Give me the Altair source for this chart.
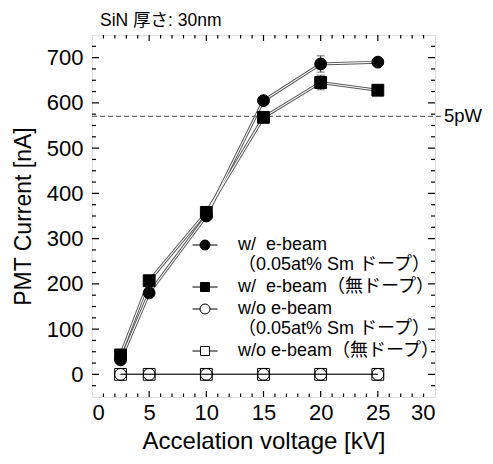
import altair as alt
import pandas as pd

# ---- data ----
x_vals = [2.5, 5, 10, 15, 20, 25]
series_names = [
    "w/\u00a0 e-beam|（0.05at% Sm ドープ）",
    "w/\u00a0 e-beam（無ドープ）",
    "w/o e-beam|（0.05at% Sm ドープ）",
    "w/o e-beam（無ドープ）",
]
w_sm = [32, 180, 350, 605, 686, 690]
w_nodope = [43, 207, 358, 568, 645, 628]
wo_sm = [0, 0, 0, 0, 0, 0]
wo_nodope = [0, 0, 0, 0, 0, 0]
w_sm_err = [0, 0, 0, 0, 18, 0]
w_nodope_err = [0, 0, 0, 0, 16, 0]
wo_sm_err = [0, 0, 0, 0, 0, 0]
wo_nodope_err = [0, 0, 0, 0, 0, 0]

ref_value = [570]
ref_label = ["5pW"]

x_major = [0, 5, 10, 15, 20, 25, 30]
x_minor = [v for v in range(1, 30) if v % 5 != 0]
y_major = [0, 100, 200, 300, 400, 500, 600, 700]
y_minor = [v for v in range(-25, 750, 25) if v % 100 != 0]

rows = []
for name, ys, es in zip(series_names,
                        [w_sm, w_nodope, wo_sm, wo_nodope],
                        [w_sm_err, w_nodope_err, wo_sm_err, wo_nodope_err]):
    for xv, yv, ev in zip(x_vals, ys, es):
        rows.append({"series": name, "x": xv, "y": yv,
                     "lo": yv - ev, "hi": yv + ev, "err": ev})
df = pd.DataFrame(rows)

FONT = "Liberation Sans, Noto Sans CJK JP"
W, H = 343, 362
xs = alt.Scale(domain=[0, 30], nice=False)
ys_ = alt.Scale(domain=[-50, 750], nice=False)

xenc = alt.X("x:Q", scale=xs, axis=alt.Axis(
    values=x_major, tickSize=0, domain=False, grid=False, labelFontSize=22,
    labelPadding=5, labelFont=FONT, title="Accelation voltage [kV]",
    titleFont=FONT, titleFontSize=24, titleFontWeight="normal", titlePadding=6,
    titleColor="black", labelColor="black"))
yenc = alt.Y("y:Q", scale=ys_, axis=alt.Axis(
    values=y_major, tickSize=0, domain=False, grid=False, labelFontSize=22,
    labelPadding=9, labelFont=FONT, title="PMT Current [nA]",
    titleFont=FONT, titleFontSize=23, titleFontWeight="normal", titlePadding=11,
    titleColor="black", labelColor="black"))

base = alt.Chart(df)
filled_pred = alt.FieldOneOfPredicate(field="series", oneOf=series_names[:2])
open_pred = alt.FieldOneOfPredicate(field="series", oneOf=series_names[2:])

lines_filled_outer = base.transform_filter(filled_pred).mark_line(
    color="#555555", strokeWidth=3).encode(x=xenc, y=yenc, detail="series:N")
lines_filled_inner = base.transform_filter(filled_pred).mark_line(
    color="white", strokeWidth=1.1).encode(x="x:Q", y="y:Q", detail="series:N")
lines_open = base.transform_filter(open_pred).mark_line(
    color="#333333", strokeWidth=1.2).encode(x="x:Q", y="y:Q", detail="series:N")

err_df = df[df["err"] > 0]
err_rule = alt.Chart(err_df).mark_rule(color="#333", strokeWidth=1).encode(
    x="x:Q", y="lo:Q", y2="hi:Q")
err_cap_hi = alt.Chart(err_df).mark_tick(orient="horizontal", size=8, thickness=1, color="#333").encode(
    x="x:Q", y="hi:Q")
err_cap_lo = alt.Chart(err_df).mark_tick(orient="horizontal", size=8, thickness=1, color="#333").encode(
    x="x:Q", y="lo:Q")

shape_plain = ["circle", "square", "circle", "square"]
fill_range = ["black", "black", "white", "white"]
point_fill = ["black", "black", "transparent", "transparent"]

points = base.mark_point(filled=True, stroke="black", strokeWidth=1, opacity=1).encode(
    x="x:Q", y="y:Q",
    shape=alt.Shape("series:N", scale=alt.Scale(domain=series_names, range=shape_plain), legend=None),
    fill=alt.Fill("series:N", scale=alt.Scale(domain=series_names, range=point_fill), legend=None),
    size=alt.value(140),
)

circ = "M-1,0A1,1 0 1,1 1,0A1,1 0 1,1 -1,0Z"
sq = "M-0.9,-0.9H0.9V0.9H-0.9Z"
whisk = "M-2.5,0H-1M1,0H2.5"
legend_shapes = [circ + whisk, sq + whisk, circ + whisk, sq + whisk]

leg = alt.Legend(
    orient="none", legendX=104, legendY=201, title=None,
    labelExpr="split(datum.label, '|')",
    labelFont=FONT, labelFontSize=18, labelColor="black", labelOffset=24,
    labelLimit=320, symbolSize=100, symbolStrokeWidth=1,
    symbolOpacity=1, rowPadding=4, labelBaseline="middle",
)
legend_layer = base.transform_filter("false").mark_point(
    filled=False, color="black", strokeWidth=1).encode(
    x="x:Q", y="y:Q",
    shape=alt.Shape("series:N", scale=alt.Scale(domain=series_names, range=legend_shapes), legend=leg),
    fill=alt.Fill("series:N", scale=alt.Scale(domain=series_names, range=fill_range), legend=leg),
    stroke=alt.Stroke("series:N", scale=alt.Scale(domain=series_names, range=["black"] * 4), legend=leg),
)

ref_df = pd.DataFrame({"v": ref_value, "t": ref_label})
ref_rule = alt.Chart(ref_df).mark_rule(color="#666666", strokeDash=[5, 3], strokeWidth=1.2).encode(
    y="v:Q", x=alt.value(0), x2=alt.value(W + 8))
ref_text = alt.Chart(ref_df).mark_text(align="left", baseline="middle", fontSize=18.5, font=FONT,
                                        color="black").encode(
    y="v:Q", x=alt.value(W + 9), text="t:N")

ym = pd.DataFrame({"v": y_major})
yn = pd.DataFrame({"v": y_minor})
xm = pd.DataFrame({"v": x_major[1:-1]})
xn = pd.DataFrame({"v": x_minor})
tk = dict(color="black", strokeWidth=1.2)
ticks = [
    alt.Chart(ym).mark_rule(**tk).encode(y="v:Q", x=alt.value(0), x2=alt.value(7)),
    alt.Chart(ym).mark_rule(**tk).encode(y="v:Q", x=alt.value(W - 7), x2=alt.value(W)),
    alt.Chart(yn).mark_rule(**tk).encode(y="v:Q", x=alt.value(0), x2=alt.value(4)),
    alt.Chart(yn).mark_rule(**tk).encode(y="v:Q", x=alt.value(W - 4), x2=alt.value(W)),
    alt.Chart(xm).mark_rule(**tk).encode(x="v:Q", y=alt.value(H), y2=alt.value(H - 6)),
    alt.Chart(xm).mark_rule(**tk).encode(x="v:Q", y=alt.value(0), y2=alt.value(6)),
    alt.Chart(xn).mark_rule(**tk).encode(x="v:Q", y=alt.value(H), y2=alt.value(H - 3.5)),
    alt.Chart(xn).mark_rule(**tk).encode(x="v:Q", y=alt.value(0), y2=alt.value(3.5)),
]

chart = alt.layer(
    lines_filled_outer, lines_filled_inner, lines_open, ref_rule, ref_text, *ticks,
    err_rule, err_cap_hi, err_cap_lo, points, legend_layer,
).resolve_scale(shape="independent", fill="independent", stroke="independent").properties(
    width=W, height=H,
    autosize=alt.AutoSizeParams(type="none"),
    padding={"left": 84, "top": 27, "right": 49, "bottom": 58},
    title=alt.TitleParams("SiN 厚さ: 30nm", anchor="start", frame="group", fontSize=17.5,
                          fontWeight="normal", font=FONT, offset=5, dx=8, color="black"),
).configure_view(stroke="black", strokeWidth=1.5).configure(background="white")

chart.save("out.html", embed_options={"renderer": "svg", "actions": False})
